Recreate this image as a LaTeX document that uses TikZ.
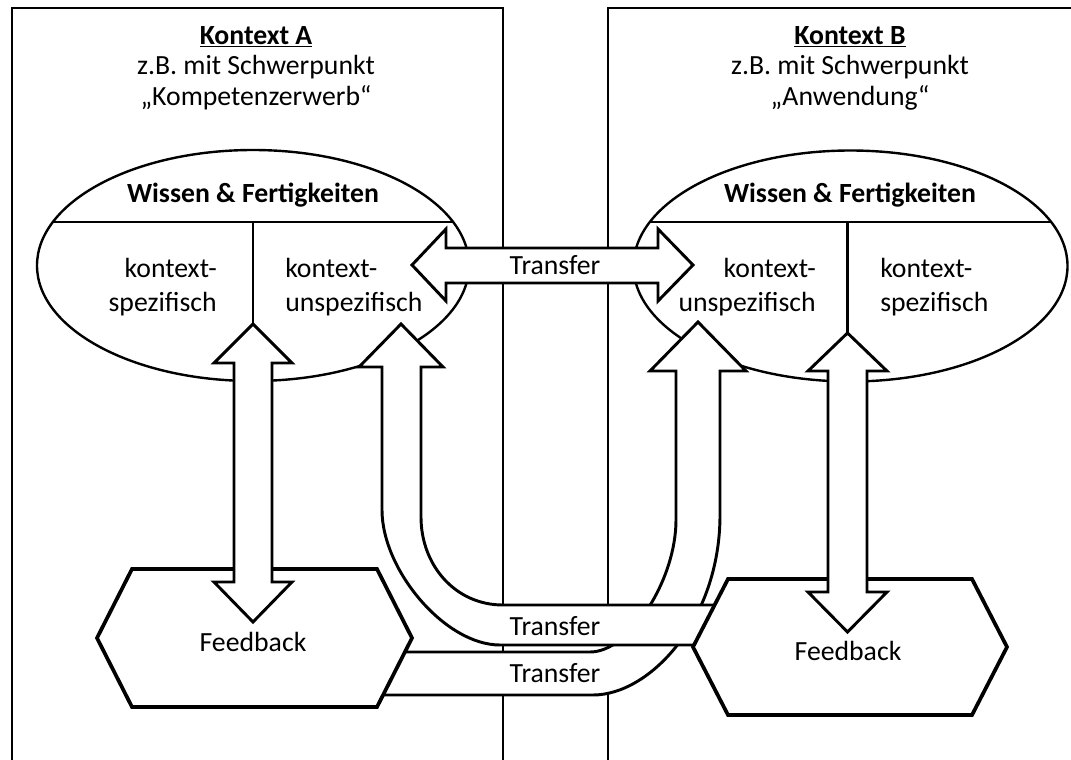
\documentclass[tikz,border=0pt]{standalone}
\usepackage{fontspec}
\setmainfont{Carlito}
\begin{document}
\begin{tikzpicture}[x=0.75pt,y=-0.75pt,
  frame/.style={line width=2pt},
  oval/.style={draw,fill=white,line width=1.8pt},
  divider/.style={line width=1.8pt},
  shapearrow/.style={draw,fill=white,line width=2.2pt,line join=miter},
  hexa/.style={draw,fill=white,line width=2.8pt,line join=miter},
  txt/.style={font=\fontsize{20.8}{25.5}\selectfont,inner sep=0pt},
  bold/.style={font=\fontsize{20.8}{25.5}\selectfont\bfseries,inner sep=0pt}]
\useasboundingbox (0,0) rectangle (1071,760);

% context frames (open at the bottom)
\draw[frame] (12,762) -- (12,8) -- (503,8) -- (503,762);
\draw[frame] (608,762) -- (608,8) -- (1075,8);

% knowledge ellipses with their dividers
\draw[oval] (253,265.5) ellipse [x radius=216, y radius=115.5];
\draw[oval] (850.5,266) ellipse [x radius=217, y radius=115.5];
\begin{scope}
  \clip (253,265.5) ellipse [x radius=216, y radius=115.5];
  \draw[divider] (0,222) -- (540,222);
\end{scope}
\begin{scope}
  \clip (850.5,266) ellipse [x radius=217, y radius=115.5];
  \draw[divider] (560,222) -- (1071,222);
\end{scope}
\draw[divider] (253,222) -- (253,324);
\draw[divider] (847.5,222) -- (847.5,333);

% transfer band: feedback A -> context-unspecific B
\draw[shapearrow] (698,322) -- (746,371) -- (720,371) -- (720,515)
  .. controls (720,620) and (650,695) .. (593,695)
  -- (380,695) -- (380,652) -- (590,652)
  .. controls (630,652) and (676,580) .. (676,520)
  -- (676,371) -- (650,371) -- cycle;

% transfer band: feedback B -> context-unspecific A
\draw[shapearrow] (401,324) -- (443,367) -- (421,367) -- (421,517)
  .. controls (421,565) and (455,605) .. (503,605)
  -- (725,605) -- (725,645) -- (500,645)
  .. controls (445,645) and (382,570) .. (382,510)
  -- (382,367) -- (359,367) -- cycle;

% feedback hexagons
\draw[hexa] (132,569) -- (377,569) -- (412,638) -- (377,707) -- (132,707) -- (97,638) -- cycle;
\draw[hexa] (728,579) -- (972,579) -- (1007,647) -- (972,715) -- (728,715) -- (693,647) -- cycle;

% two-way arrows between ellipse and feedback
\draw[shapearrow] (253,324) -- (292,363) -- (272,363) -- (272,582) -- (292,582)
  -- (253,622) -- (214,582) -- (234,582) -- (234,363) -- (214,363) -- cycle;
\draw[shapearrow] (847.5,333) -- (887,371) -- (867,371) -- (867,592) -- (887,592)
  -- (847.5,632) -- (808,592) -- (828,592) -- (828,371) -- (808,371) -- cycle;

% two-way transfer arrow between the ellipses
\draw[shapearrow] (412,265) -- (446,229) -- (446,248) -- (658,248) -- (658,229)
  -- (693,265) -- (658,301) -- (658,283) -- (446,283) -- (446,301) -- cycle;

% headings
\node[bold] (ttlA) at (256,37) {\underline{Kontext A}};
\node[txt]  (subA) at (256,67) {z.B. mit Schwerpunkt};
\node[txt]  (focA) at (256,98) {„Kompetenzerwerb“};
\node[bold] (ttlB) at (850,37) {\underline{Kontext B}};
\node[txt]  (subB) at (850,67) {z.B. mit Schwerpunkt};
\node[txt]  (focB) at (850,98) {„Anwendung“};

% ellipse labels
\node[bold] (wfA) at (253,195) {Wissen \& Fertigkeiten};
\node[bold] (wfB) at (850,195) {Wissen \& Fertigkeiten};
\node[txt,align=right,anchor=east] (ksA) at (217,287) {kontext-\\spezifisch};
\node[txt,align=left,anchor=west]  (kuA) at (285,287) {kontext-\\unspezifisch};
\node[txt,align=right,anchor=east] (kuB) at (816,287) {kontext-\\unspezifisch};
\node[txt,align=left,anchor=west]  (ksB) at (880,287) {kontext-\\spezifisch};

% arrow labels
\node[txt] (trM) at (555,265) {Transfer};
\node[txt] (trU) at (555,626) {Transfer};
\node[txt] (trL) at (555,673) {Transfer};
\node[txt] (fbA) at (253,642) {Feedback};
\node[txt] (fbB) at (848,651) {Feedback};
\end{tikzpicture}
\end{document}
